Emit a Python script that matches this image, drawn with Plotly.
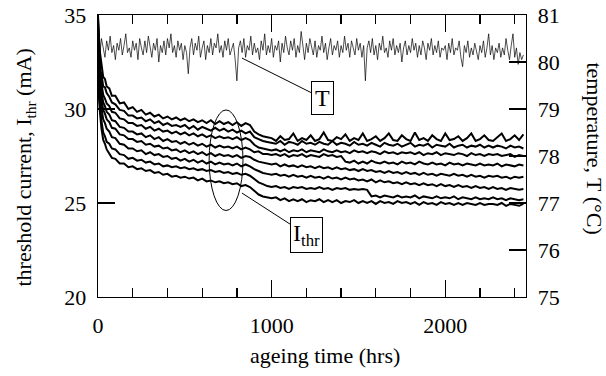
import plotly.graph_objects as go

# ---------------- data ----------------
AGE_HOURS = [0, 2, 5, 10, 15, 20, 30, 40, 50, 65, 80, 100, 125, 150, 175,
             200, 225, 250, 275, 300, 325, 350, 375, 400, 425, 450,
             475, 500, 525, 550, 575, 600, 625, 650, 675, 700, 725,
             750, 775, 800, 825, 850, 875, 900, 925, 950, 975, 1000,
             1025, 1050, 1075, 1100, 1125, 1150, 1175, 1200, 1225, 1250,
             1275, 1300, 1325, 1350, 1375, 1400, 1425, 1450, 1475, 1500,
             1525, 1550, 1575, 1600, 1625, 1650, 1675, 1700, 1725, 1750,
             1775, 1800, 1825, 1850, 1875, 1900, 1925, 1950, 1975, 2000,
             2025, 2050, 2075, 2100, 2125, 2150, 2175, 2200, 2225, 2250,
             2275, 2300, 2325, 2350, 2375, 2400, 2425, 2450]

ITHR_1 = [35.0, 34.3, 33.9, 33.1, 32.5, 32.4, 31.7, 31.6, 31.2, 31.1, 30.7, 30.7, 30.3, 30.35, 30.0,
          30.1, 29.85, 29.95, 29.7, 29.8, 29.6, 29.7, 29.5, 29.6, 29.45, 29.55,
          29.4, 29.5, 29.35, 29.45, 29.3, 29.4, 29.25, 29.4, 29.2, 29.35, 29.2,
          29.3, 29.15, 29.3, 29.1, 29.25, 29.15, 28.8, 28.65, 28.55, 28.5, 28.45,
          28.3, 28.55, 28.35, 28.4, 28.7, 28.3, 28.45, 28.35, 28.6, 28.3,
          28.4, 28.75, 28.35, 28.3, 28.5, 28.4, 28.65, 28.3, 28.45, 28.35,
          28.7, 28.3, 28.4, 28.55, 28.3, 28.45, 28.7, 28.35, 28.3, 28.6,
          28.4, 28.3, 28.75, 28.35, 28.45, 28.3, 28.6, 28.4, 28.3, 28.7,
          28.35, 28.4, 28.55, 28.3, 28.45, 28.7, 28.3, 28.4, 28.6, 28.35,
          28.3, 28.5, 28.7, 28.3, 28.4, 28.6, 28.35, 28.65]

ITHR_2 = [34.8, 34.1, 33.4, 32.7, 32.0, 31.85, 31.2, 31.15, 30.85, 30.65, 30.35, 30.25, 29.95, 29.9, 29.65,
          29.65, 29.5, 29.55, 29.35, 29.45, 29.25, 29.35, 29.15, 29.25, 29.1, 29.15,
          29.05, 29.15, 28.95, 29.1, 28.9, 29.05, 28.95, 28.85, 29.0, 28.85, 28.95,
          28.8, 28.9, 28.75, 28.85, 28.7, 28.8, 28.5, 28.4, 28.3, 28.25, 28.2,
          28.15, 28.3, 28.1, 28.25, 28.2, 28.1, 28.3, 28.15, 28.2, 28.1,
          28.25, 28.15, 28.1, 28.3, 28.1, 28.2, 28.15, 28.05, 28.25, 28.1,
          28.15, 28.05, 28.2, 28.1, 28.0, 28.2, 28.1, 28.05, 28.15, 28.0,
          28.1, 28.2, 28.0, 28.1, 28.05, 28.15, 27.95, 28.1, 28.05, 28.0,
          28.15, 27.95, 28.05, 28.1, 27.95, 28.05, 28.0, 28.1, 27.95, 28.05,
          27.95, 28.05, 28.0, 27.9, 28.05, 27.95, 28.0, 27.9]

ITHR_3 = [34.6, 33.8, 33.0, 32.25, 31.65, 31.35, 30.75, 30.55, 30.3, 30.15, 29.85, 29.8, 29.5, 29.45, 29.25,
          29.25, 29.1, 29.15, 28.95, 29.05, 28.85, 28.95, 28.8, 28.85, 28.7, 28.8,
          28.65, 28.75, 28.6, 28.7, 28.55, 28.65, 28.5, 28.6, 28.45, 28.55, 28.45,
          28.5, 28.4, 28.5, 28.35, 28.45, 28.35, 28.1, 27.95, 27.9, 27.85, 27.8,
          27.85, 27.75, 27.85, 27.7, 27.8, 27.75, 27.85, 27.7, 27.8, 27.75,
          27.7, 27.85, 27.75, 27.7, 27.8, 27.7, 27.75, 27.65, 27.8, 27.7,
          27.75, 27.65, 27.75, 27.7, 27.6, 27.75, 27.65, 27.7, 27.6, 27.7,
          27.65, 27.7, 27.6, 27.7, 27.55, 27.65, 27.6, 27.7, 27.55, 27.65,
          27.6, 27.55, 27.65, 27.6, 27.5, 27.65, 27.55, 27.6, 27.5, 27.6,
          27.55, 27.6, 27.5, 27.55, 27.6, 27.45, 27.55, 27.5]

ITHR_4 = [34.4, 33.5, 32.6, 31.85, 31.25, 30.95, 30.35, 30.15, 29.85, 29.7, 29.4, 29.35, 29.05, 29.0, 28.8,
          28.8, 28.65, 28.7, 28.5, 28.6, 28.4, 28.5, 28.3, 28.4, 28.25, 28.3,
          28.15, 28.25, 28.1, 28.2, 28.05, 28.15, 28.0, 28.1, 27.95, 28.05, 27.95,
          28.0, 27.9, 28.0, 27.85, 27.95, 27.85, 27.7, 27.75, 27.6, 27.6, 27.55,
          27.6, 27.5, 27.6, 27.45, 27.55, 27.5, 27.6, 27.45, 27.55, 27.5,
          27.45, 27.6, 27.5, 27.55, 27.45, 27.5, 27.2, 27.15, 27.25, 27.1,
          27.2, 27.1, 27.25, 27.15, 27.1, 27.2, 27.1, 27.15, 27.05, 27.2,
          27.1, 27.15, 27.05, 27.2, 27.1, 27.05, 27.15, 27.05, 27.1, 27.0,
          27.15, 27.05, 27.1, 27.0, 27.1, 27.05, 27.0, 27.1, 27.0, 27.05,
          27.0, 27.1, 26.95, 27.05, 27.0, 26.95, 27.05, 27.0]

ITHR_5 = [34.2, 33.2, 32.2, 31.45, 30.85, 30.55, 29.95, 29.75, 29.45, 29.3, 29.0, 28.95, 28.65, 28.6, 28.4,
          28.4, 28.25, 28.3, 28.1, 28.15, 28.0, 28.05, 27.9, 27.95, 27.8, 27.85,
          27.7, 27.8, 27.65, 27.75, 27.6, 27.7, 27.55, 27.65, 27.5, 27.6, 27.5,
          27.55, 27.45, 27.55, 27.4, 27.5, 27.45, 27.3, 27.2, 27.15, 27.1, 27.05,
          27.1, 26.95, 27.05, 26.95, 27.0, 26.9, 27.0, 26.9, 26.95, 26.85,
          26.95, 26.85, 26.9, 26.8, 26.9, 26.8, 26.85, 26.75, 26.8, 26.7,
          26.8, 26.7, 26.75, 26.65, 26.7, 26.6, 26.7, 26.6, 26.65, 26.55,
          26.65, 26.55, 26.6, 26.5, 26.6, 26.5, 26.55, 26.45, 26.55, 26.5,
          26.45, 26.55, 26.45, 26.5, 26.4, 26.5, 26.4, 26.45, 26.35, 26.45,
          26.4, 26.45, 26.35, 26.4, 26.3, 26.4, 26.35, 26.4]

ITHR_6 = [34.0, 32.9, 31.8, 30.95, 30.35, 30.05, 29.45, 29.25, 28.95, 28.8, 28.5, 28.45, 28.15, 28.1, 27.9,
          27.9, 27.75, 27.8, 27.6, 27.7, 27.55, 27.6, 27.45, 27.5, 27.35, 27.4,
          27.25, 27.35, 27.2, 27.3, 27.15, 27.25, 27.1, 27.2, 27.05, 27.15, 27.05,
          27.1, 27.0, 27.1, 26.95, 27.05, 26.95, 26.8, 26.7, 26.6, 26.55, 26.5,
          26.55, 26.45, 26.5, 26.4, 26.5, 26.4, 26.45, 26.35, 26.45, 26.35,
          26.4, 26.3, 26.4, 26.3, 26.35, 26.25, 26.35, 26.25, 26.3, 26.2,
          26.25, 26.15, 26.25, 26.1, 26.2, 26.1, 26.15, 26.05, 26.1, 26.0,
          26.1, 26.0, 26.05, 25.95, 26.05, 25.95, 26.0, 25.9, 26.0, 25.9,
          25.95, 25.85, 25.95, 25.85, 25.9, 25.8, 25.9, 25.8, 25.85, 25.75,
          25.85, 25.75, 25.8, 25.7, 25.8, 25.75, 25.7, 25.75]

ITHR_7 = [33.8, 32.5, 31.3, 30.35, 29.65, 29.35, 28.75, 28.55, 28.25, 28.15, 27.9, 27.85, 27.6, 27.55, 27.35,
          27.4, 27.25, 27.3, 27.15, 27.2, 27.05, 27.1, 26.95, 27.0, 26.9, 26.95,
          26.85, 26.9, 26.8, 26.85, 26.75, 26.8, 26.7, 26.75, 26.65, 26.7, 26.6,
          26.65, 26.55, 26.6, 26.5, 26.55, 26.45, 26.25, 26.1, 26.0, 25.9, 25.85,
          25.9, 25.8, 25.85, 25.75, 25.85, 25.8, 25.85, 25.75, 25.8, 25.75,
          25.85, 25.75, 25.8, 25.7, 25.8, 25.75, 25.8, 25.7, 25.75, 25.7,
          25.75, 25.7, 25.35, 25.4, 25.3, 25.4, 25.35, 25.3, 25.4, 25.3,
          25.35, 25.3, 25.4, 25.25, 25.35, 25.3, 25.25, 25.35, 25.25, 25.3,
          25.25, 25.35, 25.2, 25.3, 25.25, 25.2, 25.3, 25.2, 25.25, 25.2,
          25.3, 25.2, 25.25, 25.15, 25.25, 25.2, 25.15, 25.2]

ITHR_8 = [33.6, 32.0, 30.7, 29.95, 29.25, 28.95, 28.35, 28.15, 27.85, 27.65, 27.4, 27.35, 27.1, 27.1, 26.9,
          26.95, 26.8, 26.85, 26.7, 26.75, 26.6, 26.65, 26.5, 26.55, 26.4, 26.45,
          26.35, 26.4, 26.3, 26.35, 26.2, 26.3, 26.15, 26.2, 26.1, 26.15, 26.05,
          26.1, 26.0, 26.05, 25.9, 25.95, 25.85, 25.65, 25.45, 25.35, 25.3, 25.25,
          25.3, 25.15, 25.25, 25.1, 25.2, 25.1, 25.2, 25.05, 25.15, 25.1,
          25.2, 25.05, 25.15, 25.05, 25.15, 25.0, 25.1, 25.05, 25.15, 25.0,
          25.1, 25.0, 25.1, 24.95, 25.1, 25.0, 25.05, 24.95, 25.1, 25.0,
          25.05, 24.95, 25.05, 24.9, 25.05, 24.95, 25.0, 24.9, 25.05, 24.95,
          25.0, 24.9, 25.0, 24.9, 25.0, 24.95, 24.9, 25.0, 24.9, 24.95,
          24.95, 24.9, 25.0, 24.85, 24.95, 24.9, 24.85, 24.95]

TEMP_HOURS = [0, 10, 20, 30, 40, 50, 60, 70, 80, 90,
              100, 110, 120, 130, 140, 150, 160, 170, 180, 190,
              200, 210, 220, 230, 240, 250, 260, 270, 280, 290,
              300, 310, 320, 330, 340, 350, 360, 370, 380, 390,
              400, 410, 420, 430, 440, 450, 460, 470, 480, 490,
              500, 510, 520, 530, 540, 550, 560, 570, 580, 590,
              600, 610, 620, 630, 640, 650, 660, 670, 680, 690,
              700, 710, 720, 730, 740, 750, 760, 770, 780, 790,
              800, 810, 820, 830, 840, 850, 860, 870, 880, 890,
              900, 910, 920, 930, 940, 950, 960, 970, 980, 990,
              1000, 1010, 1020, 1030, 1040, 1050, 1060, 1070, 1080, 1090,
              1100, 1110, 1120, 1130, 1140, 1150, 1160, 1170, 1180, 1190,
              1200, 1210, 1220, 1230, 1240, 1250, 1260, 1270, 1280, 1290,
              1300, 1310, 1320, 1330, 1340, 1350, 1360, 1370, 1380, 1390,
              1400, 1410, 1420, 1430, 1440, 1450, 1460, 1470, 1480, 1490,
              1500, 1510, 1520, 1530, 1540, 1550, 1560, 1570, 1580, 1590,
              1600, 1610, 1620, 1630, 1640, 1650, 1660, 1670, 1680, 1690,
              1700, 1710, 1720, 1730, 1740, 1750, 1760, 1770, 1780, 1790,
              1800, 1810, 1820, 1830, 1840, 1850, 1860, 1870, 1880, 1890,
              1900, 1910, 1920, 1930, 1940, 1950, 1960, 1970, 1980, 1990,
              2000, 2010, 2020, 2030, 2040, 2050, 2060, 2070, 2080, 2090,
              2100, 2110, 2120, 2130, 2140, 2150, 2160, 2170, 2180, 2190,
              2200, 2210, 2220, 2230, 2240, 2250, 2260, 2270, 2280, 2290,
              2300, 2310, 2320, 2330, 2340, 2350, 2360, 2370, 2380, 2390,
              2400, 2410, 2420, 2430, 2440, 2450]

TEMP_C = [80.4, 80.15, 80.5, 80.3, 80.1, 80.45, 80.25, 80.55, 80.2, 80.35,
          80.05, 80.4, 80.25, 80.5, 80.15, 80.35, 80.6, 80.2, 80.3, 80.1,
          80.45, 80.25, 80.4, 80.05, 80.5, 80.3, 80.15, 80.45, 80.2, 80.55,
          80.3, 80.1, 80.4, 80.25, 80.5, 80.0, 80.35, 80.2, 80.45, 80.15,
          80.5, 80.3, 80.6, 80.2, 80.35, 80.1, 80.45, 80.25, 80.4, 80.05,
          80.35, 80.2, 79.75, 80.3, 80.5, 80.15, 80.4, 80.25, 80.55, 80.1,
          80.3, 80.45, 80.05, 80.35, 80.2, 80.5, 80.15, 80.4, 80.3, 80.6,
          80.2, 80.35, 80.1, 80.45, 80.25, 80.5, 80.15, 80.3, 80.4, 80.05,
          79.6, 80.3, 80.45, 80.2, 80.5, 80.1, 80.35, 80.25, 80.55, 80.15,
          80.4, 80.2, 80.3, 80.05, 80.45, 80.25, 80.6, 80.15, 80.35, 80.2,
          80.5, 80.1, 80.35, 80.25, 80.45, 80.0, 80.4, 80.2, 80.55, 80.3,
          80.15, 80.45, 80.25, 80.5, 80.1, 80.35, 80.2, 80.65, 80.3, 80.05,
          80.4, 80.2, 80.5, 80.3, 80.15, 80.45, 80.1, 80.35, 80.25, 80.55,
          80.2, 80.4, 80.05, 80.3, 80.5, 80.15, 80.35, 80.25, 80.45, 80.1,
          80.35, 80.2, 80.55, 80.25, 80.4, 80.1, 80.45, 80.3, 80.15, 80.5,
          80.25, 80.4, 80.1, 80.35, 79.6, 80.3, 80.45, 80.2, 80.5, 80.15,
          80.35, 80.05, 80.4, 80.25, 80.55, 80.2, 80.3, 80.1, 80.45, 80.25,
          80.5, 80.15, 80.35, 80.2, 80.4, 80.0, 80.3, 80.45, 80.15, 80.35,
          80.2, 80.5, 80.25, 80.4, 80.1, 80.35, 80.15, 80.45, 80.3, 80.05,
          80.4, 80.25, 80.5, 80.15, 80.35, 80.2, 80.45, 80.1, 80.3, 80.25,
          80.35, 80.05, 80.4, 80.2, 80.5, 80.15, 80.3, 80.25, 80.45, 80.1,
          79.9, 80.35, 80.2, 80.45, 80.1, 80.3, 80.15, 80.4, 80.25, 80.05,
          80.35, 80.2, 80.45, 80.1, 80.3, 80.6, 80.15, 80.35, 80.05, 80.3,
          80.2, 80.4, 80.1, 80.3, 80.15, 80.5, 80.25, 80.05, 80.35, 80.6,
          80.1, 80.3, 79.95, 80.2, 80.05, 80.15]

ITHR_SERIES = [ITHR_1, ITHR_2, ITHR_3, ITHR_4, ITHR_5, ITHR_6, ITHR_7, ITHR_8]
for s in ITHR_SERIES:
    assert len(s) == len(AGE_HOURS), (len(s), len(AGE_HOURS))
assert len(TEMP_C) == len(TEMP_HOURS), (len(TEMP_C), len(TEMP_HOURS))

X_RANGE = [0, 2465]
Y_LEFT_RANGE = [20, 35]
Y_RIGHT_RANGE = [75, 81]

# ---------------- figure ----------------
FONT = "Liberation Serif, Times New Roman, Times, DejaVu Serif, serif"
fig = go.Figure()

for s in ITHR_SERIES:
    fig.add_trace(go.Scatter(x=AGE_HOURS, y=s, mode="lines",
                             line=dict(color="black", width=2.0),
                             showlegend=False, hoverinfo="skip"))

fig.add_trace(go.Scatter(x=TEMP_HOURS, y=TEMP_C, mode="lines", yaxis="y2",
                         line=dict(color="black", width=0.7),
                         showlegend=False, hoverinfo="skip"))

axis_common = dict(showgrid=False, zeroline=False, showline=True,
                   linecolor="black", linewidth=1.3, ticks="inside",
                   tickcolor="black", tickwidth=1.2, ticklen=17,
                   automargin=False,
                   tickfont=dict(family=FONT, size=22, color="black"))

fig.update_layout(
    width=606, height=376,
    margin=dict(l=98, r=80, t=15, b=79),
    paper_bgcolor="white", plot_bgcolor="white",
    font=dict(family=FONT, color="black"),
    xaxis=dict(range=X_RANGE, tickvals=[0, 1000, 2000], mirror="ticks",
               minor=dict(dtick=200, ticks="inside", ticklen=9,
                          tickcolor="black", tickwidth=1.2),
               ticklabelstandoff=8, **axis_common),
    yaxis=dict(range=Y_LEFT_RANGE, tickvals=[20, 25, 30, 35], mirror=True,
               ticklabelstandoff=6, **axis_common),
    yaxis2=dict(range=Y_RIGHT_RANGE, tickvals=[75, 76, 77, 78, 79, 80, 81],
                overlaying="y", side="right", ticklabelstandoff=6,
                **axis_common),
)

title_font = dict(family=FONT, size=22, color="black")
fig.add_annotation(text="ageing time (hrs)", xref="paper", yref="paper",
                   x=0.530, y=-0.208, showarrow=False, font=title_font,
                   xanchor="center", yanchor="middle")
fig.add_annotation(text="threshold current, I<sub>thr</sub> (mA)",
                   xref="paper", yref="paper", x=-0.170, y=0.46,
                   textangle=-90, showarrow=False, font=title_font,
                   xanchor="center", yanchor="middle")
fig.add_annotation(text="temperature, T (°C)", xref="paper", yref="paper",
                   x=1.160, y=0.525, textangle=90, showarrow=False,
                   font=title_font, xanchor="center", yanchor="middle")

# ellipse around the threshold-current curves
fig.add_shape(type="circle", xref="x", yref="y", x0=640, x1=835,
              y0=24.6, y1=29.95, line=dict(color="black", width=1))

# boxed labels with leader lines
label_font = dict(family=FONT, size=24, color="black")
fig.add_annotation(text="T", x=829, y=32.71, xref="x", yref="y",
                   ax=1295, ay=30.56, axref="x", ayref="y",
                   showarrow=True, arrowhead=0, arrowwidth=1,
                   arrowcolor="black", bordercolor="black", borderwidth=1,
                   borderpad=3, bgcolor="white", font=label_font)
fig.add_annotation(text="I<sub>thr</sub>", x=829, y=25.53, xref="x", yref="y",
                   ax=1203, ay=23.3, axref="x", ayref="y",
                   showarrow=True, arrowhead=0, arrowwidth=1,
                   arrowcolor="black", bordercolor="black", borderwidth=1,
                   borderpad=2, bgcolor="white", font=label_font)

# remove the default page margin so the figure sits at the window's corner
fig.write_html("out.html",
               config={"displayModeBar": False, "staticPlot": True},
               post_script="document.body.style.margin='0';"
                           "document.body.style.padding='0';")
